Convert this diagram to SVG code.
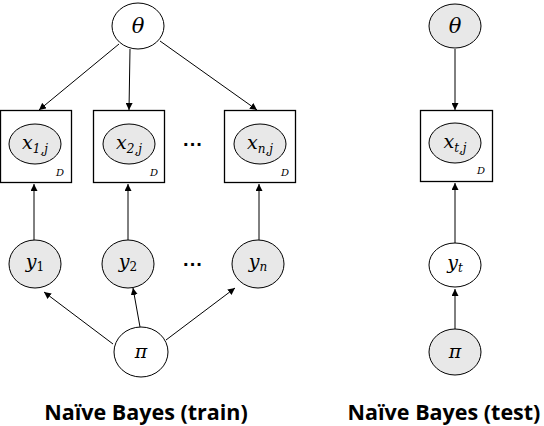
<svg xmlns="http://www.w3.org/2000/svg" width="544" height="426" viewBox="0 0 544 426">
<defs>
<marker id="ah" viewBox="0 0 10 10" refX="10" refY="5" markerWidth="7" markerHeight="7" markerUnits="userSpaceOnUse" orient="auto">
<path d="M0,0 L10,5 L0,10 z" fill="#000"/>
</marker>
</defs>
<style>
.node{stroke:#000;stroke-width:1}
.obs{fill:#e8e8e8}
.lat{fill:#fff}
.plate{fill:none;stroke:#000;stroke-width:1.3}
.m{font-family:'DejaVu Serif','Liberation Serif',serif;font-style:italic;fill:#000;text-anchor:middle;font-size:19px}
.big{font-size:21px}
.sub{font-size:12px}
.up{font-style:normal}
.d{font-family:'DejaVu Serif','Liberation Serif',serif;font-style:italic;font-size:10px;fill:#000}
.dots{font-family:'Liberation Sans',sans-serif;font-weight:bold;font-size:20px;text-anchor:middle;fill:#000}
.title{font-family:'Open Sans','Liberation Sans',sans-serif;font-weight:bold;font-size:21.5px;text-anchor:middle;fill:#000}
.edge{stroke:#000;stroke-width:1;fill:none;marker-end:url(#ah)}
</style>
<rect width="544" height="426" fill="#fff"/>
<g id="connectors">
<line class="edge" x1="119" y1="44" x2="39" y2="110"/>
<line class="edge" x1="130" y1="49" x2="129" y2="110"/>
<line class="edge" x1="160" y1="41" x2="257" y2="110"/>
<line class="edge" x1="34" y1="240" x2="34" y2="184"/>
<line class="edge" x1="128" y1="240" x2="128" y2="184"/>
<line class="edge" x1="259" y1="240" x2="259" y2="184"/>
<line class="edge" x1="113" y1="344" x2="44" y2="292"/>
<line class="edge" x1="140" y1="327" x2="133" y2="288"/>
<line class="edge" x1="166" y1="340" x2="235" y2="288"/>
<line class="edge" x1="455" y1="49" x2="455" y2="110"/>
<line class="edge" x1="455" y1="243" x2="455" y2="183"/>
<line class="edge" x1="455" y1="329" x2="455" y2="289"/>
</g>
<g id="theta-train"><ellipse class="node lat" cx="138" cy="26" rx="26" ry="23"/><text class="m big" x="138" y="33">θ</text></g>
<g id="x1"><rect class="plate" x="0.5" y="110.5" width="71" height="72"/><ellipse class="node obs" cx="35" cy="144" rx="26" ry="20"/><text class="m" x="35" y="149">x<tspan class="sub" dy="4">1,j</tspan></text><text class="d" x="56" y="176">D</text></g>
<g id="x2"><rect class="plate" x="93.5" y="110.5" width="71" height="72"/><ellipse class="node obs" cx="129" cy="144" rx="26" ry="20"/><text class="m" x="129" y="149">x<tspan class="sub" dy="4">2,j</tspan></text><text class="d" x="150" y="176">D</text></g>
<g id="xn"><rect class="plate" x="224.5" y="110.5" width="71" height="72"/><ellipse class="node obs" cx="260" cy="144" rx="26" ry="20"/><text class="m" x="260" y="149">x<tspan class="sub" dy="4">n,j</tspan></text><text class="d" x="281" y="176">D</text></g>
<text class="dots" x="193" y="151">···</text>
<g id="y1"><ellipse class="node obs" cx="35" cy="264" rx="26" ry="24"/><text class="m" x="35" y="268">y<tspan class="sub up" dy="3">1</tspan></text></g>
<g id="y2"><ellipse class="node obs" cx="128" cy="264" rx="26" ry="24"/><text class="m" x="128" y="268">y<tspan class="sub up" dy="3">2</tspan></text></g>
<g id="yn"><ellipse class="node obs" cx="258" cy="264" rx="26" ry="24"/><text class="m" x="258" y="268">y<tspan class="sub" dy="3">n</tspan></text></g>
<text class="dots" x="193" y="271">···</text>
<g id="pi-train"><ellipse class="node lat" cx="141" cy="352" rx="27" ry="25"/><text class="m" x="141" y="358">π</text></g>
<text class="title" x="146" y="420">Naïve Bayes (train)</text>
<g id="theta-test"><ellipse class="node obs" cx="455" cy="26" rx="26" ry="22"/><text class="m big" x="455" y="33">θ</text></g>
<g id="xt"><rect class="plate" x="420.5" y="110.5" width="72" height="71"/><ellipse class="node obs" cx="455" cy="143" rx="26" ry="20"/><text class="m" x="455" y="148">x<tspan class="sub" dy="4">t,j</tspan></text><text class="d" x="477" y="174">D</text></g>
<g id="yt"><ellipse class="node lat" cx="455" cy="265" rx="26" ry="22"/><text class="m" x="455" y="269">y<tspan class="sub" dy="3">t</tspan></text></g>
<g id="pi-test"><ellipse class="node obs" cx="455" cy="352" rx="26" ry="23"/><text class="m" x="455" y="358">π</text></g>
<text class="title" x="444" y="420">Naïve Bayes (test)</text>
</svg>
